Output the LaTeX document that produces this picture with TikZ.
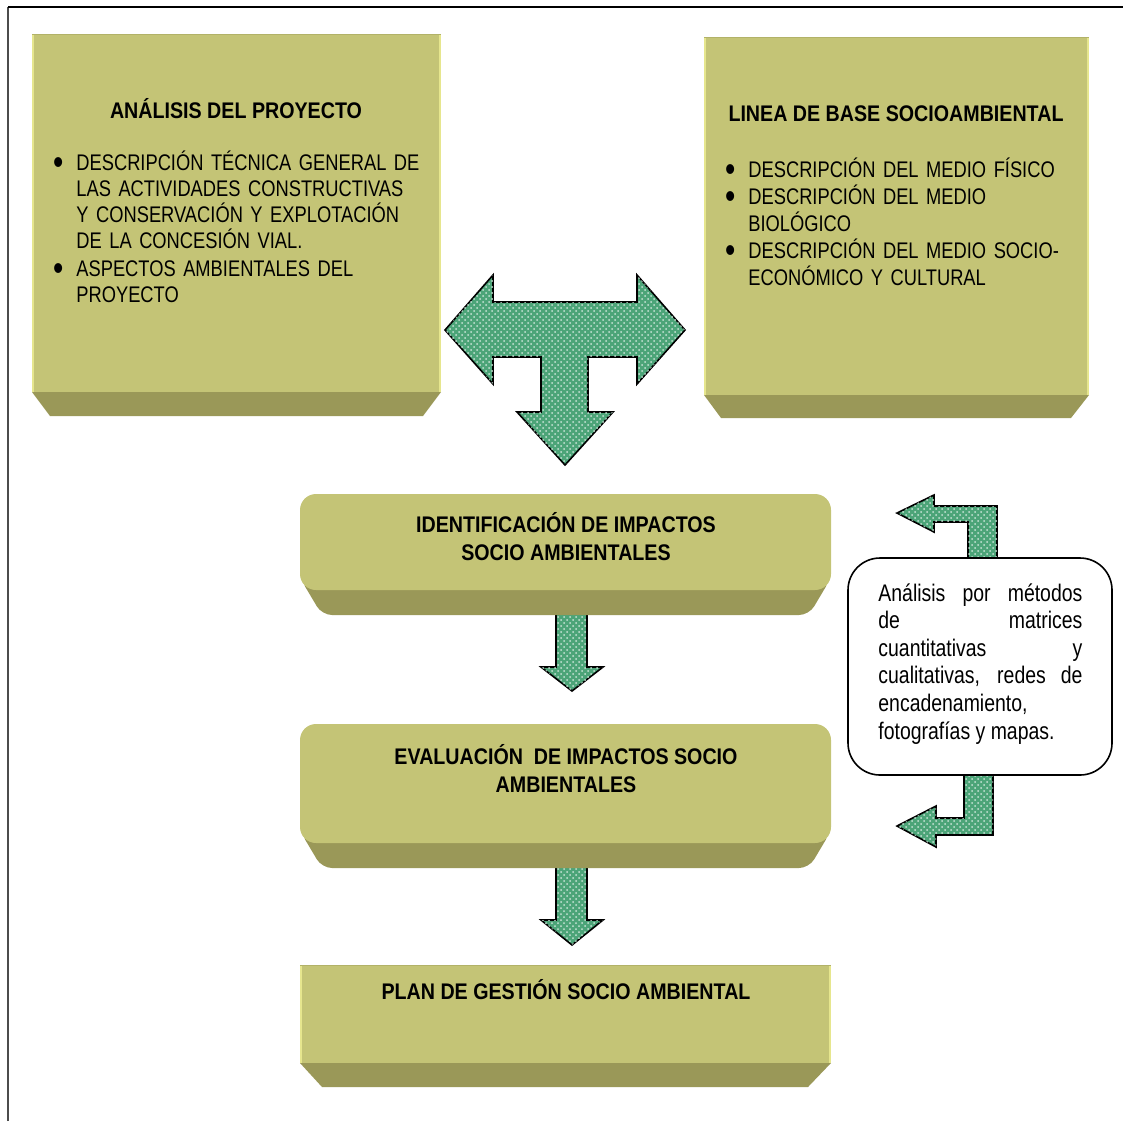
\documentclass[tikz,border=0pt]{standalone}
\usepackage{fontspec}
\setmainfont{Liberation Sans}[FakeStretch=0.81,BoldFeatures={FakeStretch=0.87}]
\usepackage{enumitem}
\usetikzlibrary{patterns,positioning}

\definecolor{facecol}{HTML}{C4C476}
\definecolor{bevelcol}{HTML}{9A9858}
\definecolor{edgecol}{HTML}{E6E68E}
\definecolor{topcol}{HTML}{B2B268}
\definecolor{arrowgreen}{HTML}{4CA478}

\newcommand{\fullline}[1]{\makebox[102pt][s]{#1}\\}
\newcommand{\bigdot}{\smash{\raisebox{-2pt}{\scalebox{1.6}{\textbullet}}}}

\tikzset{
  face/.style={fill=facecol},
  bevel/.style={fill=bevelcol},
  hilite/.style={draw=edgecol,line width=1.2pt},
  greenarrow/.style={draw=black,line width=0.8pt,line join=miter,fill=arrowgreen,
    postaction={pattern=crosshatch dots,pattern color=white!70!arrowgreen}},
  title/.style={font=\bfseries\fontsize{11.3}{14}\selectfont,align=center,inner sep=0pt},
  body/.style={font=\fontsize{11.3}{13}\selectfont,align=left,inner sep=0pt,anchor=north west},
}
\setlist[itemize]{label=\bigdot,leftmargin=9pt,labelsep=6.5pt,nosep,itemsep=1pt}

\begin{document}
\begin{tikzpicture}[x=0.5pt,y=-0.5pt]
\useasboundingbox (0,0) rectangle (1128,1121);

% page frame
\draw[gray!60!black,line width=1pt] (8,1121) -- (8,7);
\draw[black,line width=0.8pt] (8,7) -- (1123,7);

% arrows between the boxes
\draw[greenarrow] (445,330) -- (493,275) -- (493,302) -- (637,302) -- (637,275)
  -- (685,330) -- (637,384) -- (637,357) -- (588,357) -- (588,412) -- (613,412)
  -- (565,465) -- (517,412) -- (541,412) -- (541,357) -- (493,357) -- (493,384) -- cycle;
\draw[greenarrow] (556,608) -- (587,608) -- (587,667) -- (603,667) -- (572,691)
  -- (541,667) -- (556,667) -- cycle;
\draw[greenarrow] (556,860) -- (587,860) -- (587,920) -- (603,920) -- (572,945)
  -- (541,920) -- (556,920) -- cycle;
\draw[greenarrow] (897,513) -- (934,495) -- (934,506) -- (997,506) -- (997,565)
  -- (968,565) -- (968,522) -- (934,522) -- (934,532) -- cycle;
\draw[greenarrow] (897,826) -- (936,806) -- (936,818) -- (964,818) -- (964,768)
  -- (993,768) -- (993,835) -- (936,835) -- (936,847) -- cycle;

% analisis del proyecto
\fill[bevel] (32,392) -- (441,392) -- (423,416) -- (50,416) -- cycle;
\fill[face] (32,34) rectangle (441,392);
\draw[hilite] (33,35) -- (33,392) (440,35) -- (440,392);
\draw[topcol,line width=0.8pt] (32,34.5) -- (441,34.5);
\node[title,anchor=base] (analisis) at (236,118) {ANÁLISIS DEL PROYECTO};
\node[body,text width=185pt] (listanalisis) at (58,144) {%
  \begin{itemize}
  \item DESCRIPCIÓN TÉCNICA GENERAL DE\\ LAS ACTIVIDADES CONSTRUCTIVAS\\
    Y CONSERVACIÓN Y EXPLOTACIÓN\\ DE LA CONCESIÓN VIAL.
  \item ASPECTOS AMBIENTALES DEL\\ PROYECTO
  \end{itemize}};

% linea de base
\fill[bevel] (704,395) -- (1089,395) -- (1071,418) -- (721,418) -- cycle;
\fill[face] (704,37) rectangle (1089,395);
\draw[hilite] (705,38) -- (705,395) (1088,38) -- (1088,395);
\draw[topcol,line width=0.8pt] (704,37.5) -- (1089,37.5);
\node[title,anchor=base] (lineabase) at (896,121) {LINEA DE BASE SOCIOAMBIENTAL};
\node[body,text width=185pt,font=\fontsize{11.3}{13.5}\selectfont] (listlinea) at (730,150) {%
  \begin{itemize}[itemsep=0pt]
  \item DESCRIPCIÓN DEL MEDIO FÍSICO
  \item DESCRIPCIÓN DEL MEDIO\\ BIOLÓGICO
  \item DESCRIPCIÓN DEL MEDIO SOCIO-\\ ECONÓMICO Y CULTURAL
  \end{itemize}};

% identificacion
\fill[bevel,rounded corners=5pt] (300,578) -- (322,615) -- (809,615) -- (831,578) -- cycle;
\fill[face,rounded corners=8pt] (300,494) rectangle (831,590);
\node[title] (identif) at (566,537) {IDENTIFICACIÓN DE IMPACTOS\\ SOCIO AMBIENTALES};

% evaluacion
\fill[bevel,rounded corners=5pt] (300,831) -- (322,868) -- (809,868) -- (831,831) -- cycle;
\fill[face,rounded corners=8pt] (300,724) rectangle (831,843);
\node[title] (evaluac) at (566,769) {EVALUACIÓN~ DE IMPACTOS SOCIO\\ AMBIENTALES};

% plan de gestion
\fill[bevel] (300,1063) -- (831,1063) -- (808,1087) -- (322,1087) -- cycle;
\fill[face] (300,965) rectangle (831,1063);
\draw[hilite] (301,966) -- (301,1063) (830,966) -- (830,1063);
\draw[topcol,line width=0.8pt] (300,965.5) -- (831,965.5);
\node[title,anchor=base] (plan) at (566,999) {PLAN DE GESTIÓN SOCIO AMBIENTAL};

% metodos de analisis
\draw[fill=white,line width=0.8pt,rounded corners=16pt] (848,558) rectangle (1112,775);
\node[body,font=\fontsize{12}{13.8}\selectfont] (metodos) at (878,583) {%
  \fullline{Análisis por métodos}
  \fullline{de matrices}
  \fullline{cuantitativas y}
  \fullline{cualitativas, redes de}
  encadenamiento,\\
  fotografías y mapas.};

\end{tikzpicture}
\end{document}
